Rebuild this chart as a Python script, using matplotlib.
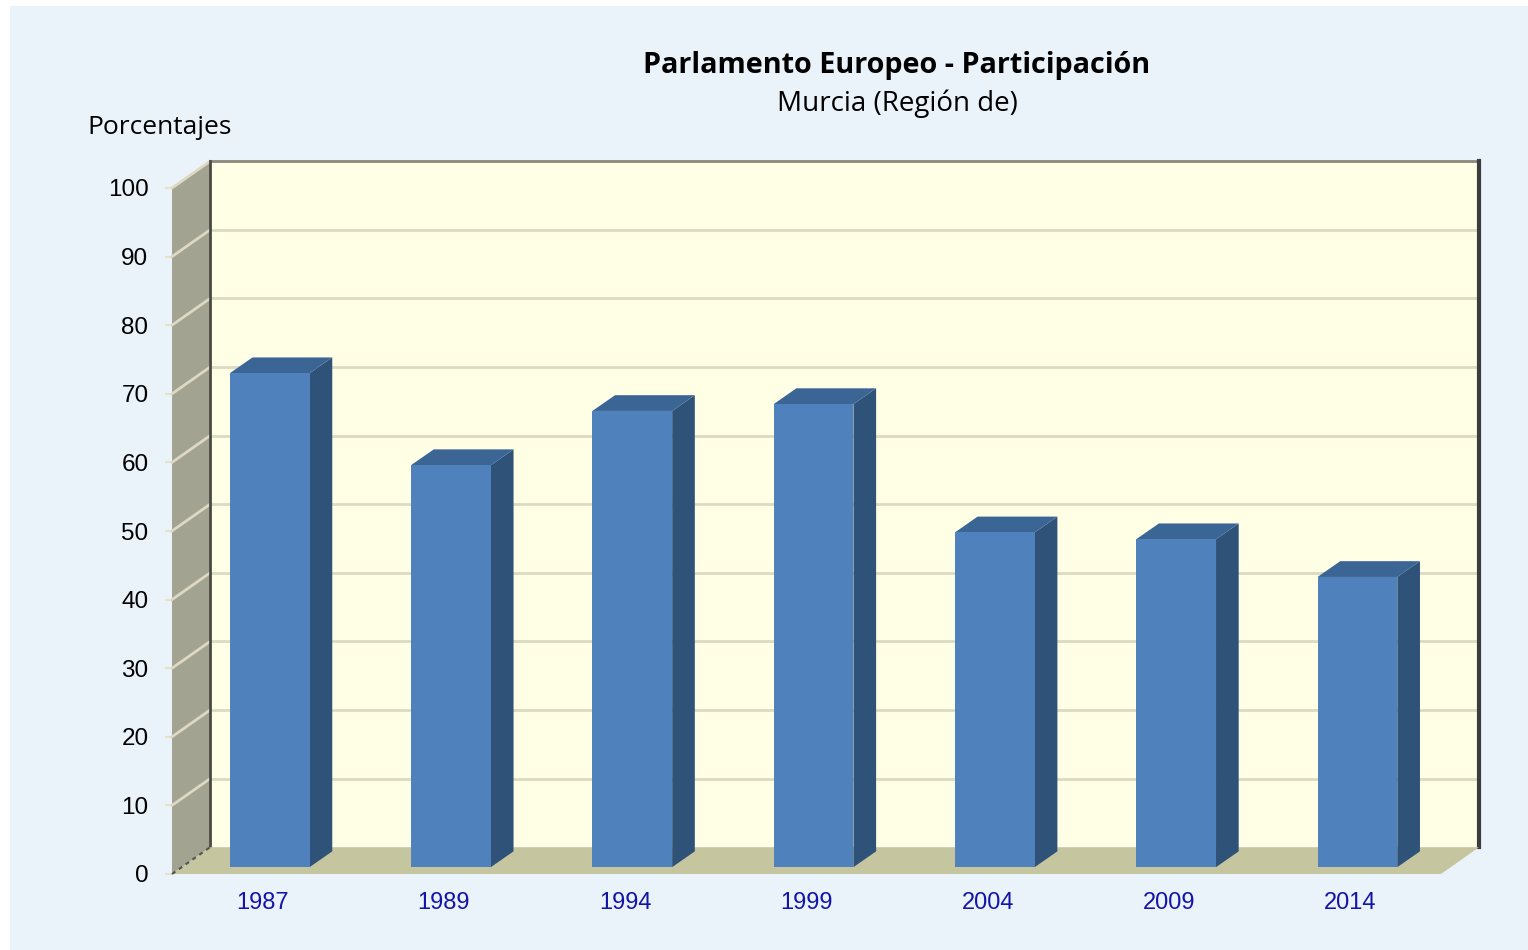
import matplotlib
matplotlib.use('Agg')
import matplotlib.pyplot as plt
from matplotlib.patches import Polygon, Rectangle

# data
years = ['1987', '1989', '1994', '1999', '2004', '2009', '2014']
turnout = [72.0, 58.6, 66.5, 67.5, 48.8, 47.8, 42.3]
yticks = list(range(0, 101, 10))

title = 'Parlamento Europeo - Participación'
subtitle = 'Murcia (Región de)'
ylabel = 'Porcentajes'

# colours
BG = '#EAF3FA'
WALL = '#FFFFE6'
SIDEWALL = '#A3A391'
FLOOR = '#C5C59F'
GRID = '#DDD9C3'
FRONT = '#4F81BD'
SIDE = '#2F5279'
TOP = '#3B6594'
YEARCOL = '#1414A8'

# pseudo 3d geometry in data units
DX, DY = 0.21, 3.9          # depth of walls
BOX, BOY = 0.039, 1.0       # bar front plane offset
SDX, SDY = 0.125, 2.3       # bar depth
W = 0.44

W_PX, H_PX = 1528, 950
fig = plt.figure(figsize=(W_PX / 100, H_PX / 100), dpi=100, facecolor='white')
fig.patches.append(Rectangle((10 / W_PX, 0), 1 - 10 / W_PX, 1 - 6 / H_PX,
                             transform=fig.transFigure, facecolor=BG, edgecolor='none', zorder=-10))

ax = fig.add_axes([172 / W_PX, (950 - 874) / H_PX, (1441 - 172) / W_PX, (874 - 188) / H_PX])
ax.set_facecolor('none')
ax.set_xlim(-0.5, len(years) - 0.5)
ax.set_ylim(0, 100)
for s in ax.spines.values():
    s.set_visible(False)

x0, x1 = -0.5, len(years) - 0.5

# back wall
ax.add_patch(Polygon([(x0 + DX, DY), (x1 + DX, DY), (x1 + DX, 100 + DY), (x0 + DX, 100 + DY)],
                     closed=True, facecolor=WALL, edgecolor='none', clip_on=False, zorder=1))
for v in yticks[1:]:
    ax.plot([x0 + DX, x1 + DX], [v + DY, v + DY], color=GRID, lw=2, clip_on=False, zorder=2)
    ax.plot([x0, x0 + DX], [v, v + DY], color=GRID, lw=2, clip_on=False, zorder=4)
ax.plot([x0 + DX, x1 + DX], [100 + DY, 100 + DY], color='#8A8A80', lw=2, clip_on=False, zorder=3)
ax.plot([x1 + DX, x1 + DX], [DY, 100 + DY], color='#3C3C3C', lw=3, clip_on=False, zorder=3)

# left wall
ax.add_patch(Polygon([(x0, 0), (x0 + DX, DY), (x0 + DX, 100 + DY), (x0, 100)],
                     closed=True, facecolor=SIDEWALL, edgecolor='none', clip_on=False, zorder=3))
ax.plot([x0 + DX, x0 + DX], [DY, 100 + DY], color='#4A4A44', lw=2, clip_on=False, zorder=5)

# floor
ax.add_patch(Polygon([(x0, 0), (x1, 0), (x1 + DX, DY), (x0 + DX, DY)],
                     closed=True, facecolor=FLOOR, edgecolor='none', clip_on=False, zorder=5))
ax.plot([x0, x0 + DX], [0, DY], color='#555550', lw=1.5, ls=(0, (2, 2)), clip_on=False, zorder=5)

# bars
xs = [i + BOX for i in range(len(years))]
ax.bar(xs, turnout, width=W, bottom=BOY, color=FRONT, edgecolor='none', zorder=7)
for x, v in zip(xs, turnout):
    r, l = x + W / 2, x - W / 2
    ax.add_patch(Polygon([(r, BOY), (r + SDX, BOY + SDY), (r + SDX, BOY + v + SDY), (r, BOY + v)],
                         closed=True, facecolor=SIDE, edgecolor='none', zorder=6))
    ax.add_patch(Polygon([(l, BOY + v), (r, BOY + v), (r + SDX, BOY + v + SDY), (l + SDX, BOY + v + SDY)],
                         closed=True, facecolor=TOP, edgecolor='none', zorder=6))

# ticks
ax.set_yticks(yticks)
ax.set_yticklabels([str(v) for v in yticks], fontsize=17.5, family='Liberation Sans')
ax.tick_params(axis='y', length=5, width=1.5, color='#E6E2C8', pad=12)
ax.set_xticks(range(len(years)))
ax.set_xticklabels(years, fontsize=17, family='Liberation Sans', color=YEARCOL)
ax.tick_params(axis='x', length=0, pad=13)

# titles
fig.text(897 / W_PX, 1 - 66 / H_PX, title, ha='center', va='center',
         fontsize=20.7, fontweight='bold', family='Open Sans')
fig.text(897 / W_PX, 1 - 104 / H_PX, subtitle, ha='center', va='center',
         fontsize=20, family='Open Sans')
fig.text(160 / W_PX, 1 - 128 / H_PX, ylabel, ha='center', va='center',
         fontsize=19, family='Open Sans')

fig.savefig('out.png', dpi=100, facecolor=fig.get_facecolor())
